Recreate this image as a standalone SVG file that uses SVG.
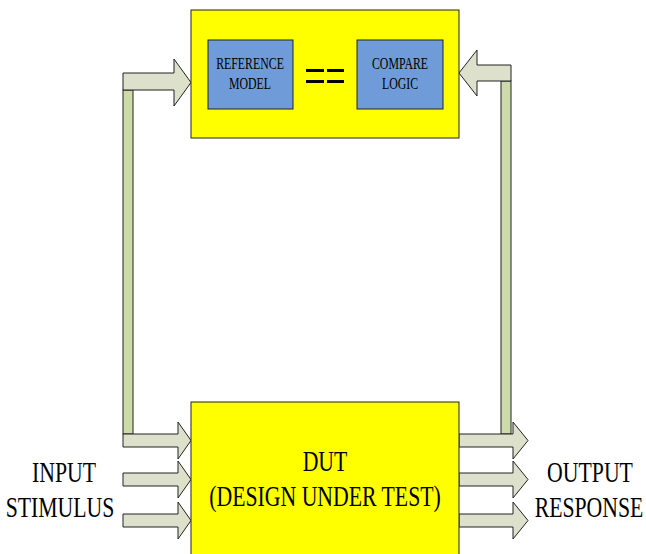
<svg xmlns="http://www.w3.org/2000/svg" width="646" height="554" viewBox="0 0 646 554">
  <style>
    .yellow { fill: #FFFF00; stroke: #222; stroke-width: 1; }
    .blue { fill: #6F9CD8; stroke: #222; stroke-width: 1; }
    .arrow { fill: #DDE1CB; stroke: #222; stroke-width: 1; stroke-linejoin: miter; }
    .bar { fill: #CDDBAA; stroke: #222; stroke-width: 1; }
    .t { font-family: "Liberation Serif", "Times New Roman", serif; fill: #000; text-anchor: middle; }
    .small { font-size: 16px; }
    .big { font-size: 29px; }
  </style>
  <rect width="646" height="554" fill="#FFFFFF"/>

  <g id="connectors">
    <!-- feedback bars -->
    <rect class="bar" x="123" y="90" width="10" height="344"/>
    <rect class="bar" x="501" y="81" width="10" height="353"/>
    <!-- top left arrow into verification box -->
    <polygon class="arrow" points="123,73 174,73 174,59 191,82.5 174,106 174,90 123,90"/>
    <!-- top right arrow into verification box -->
    <polygon class="arrow" points="511,65 477,65 477,50 459,73 477,96 477,81 511,81"/>
    <!-- input arrows -->
    <polygon class="arrow" points="123,434 178,434 178,422 191,440.5 178,459 178,447 123,447"/>
    <polygon class="arrow" points="123,473 178,473 178,461 191,479.5 178,498 178,486 123,486"/>
    <polygon class="arrow" points="123,514 178,514 178,502 191,520.5 178,539 178,527 123,527"/>
    <!-- output arrows -->
    <polygon class="arrow" points="459,434 513,434 513,422 528,440.5 513,459 513,447 459,447"/>
    <polygon class="arrow" points="459,473 513,473 513,461 528,479.5 513,498 513,486 459,486"/>
    <polygon class="arrow" points="459,514 513,514 513,502 528,520.5 513,539 513,527 459,527"/>
  </g>

  <g id="verification">
    <rect class="yellow" x="191" y="10" width="268" height="128"/>
  </g>

  <g id="reference-model">
    <rect class="blue" x="208" y="40" width="85" height="69"/>
    <text class="t small" transform="translate(250,69) scale(0.74,1)">REFERENCE</text>
    <text class="t small" transform="translate(250,89) scale(0.74,1)">MODEL</text>
  </g>

  <g id="equals">
    <rect x="306" y="69" width="18" height="3" fill="#000"/>
    <rect x="327" y="69" width="17" height="3" fill="#000"/>
    <rect x="306" y="80" width="18" height="3" fill="#000"/>
    <rect x="327" y="80" width="17" height="3" fill="#000"/>
  </g>

  <g id="compare-logic">
    <rect class="blue" x="357" y="40" width="86" height="69"/>
    <text class="t small" transform="translate(400,69) scale(0.74,1)">COMPARE</text>
    <text class="t small" transform="translate(400,89) scale(0.74,1)">LOGIC</text>
  </g>

  <g id="dut">
    <rect class="yellow" x="191" y="402" width="268" height="160"/>
    <text class="t big" transform="translate(325,471) scale(0.75,1)">DUT</text>
    <text class="t big" transform="translate(325,506) scale(0.75,1)">(DESIGN UNDER TEST)</text>
  </g>

  <g id="input-stimulus">
    <text class="t big" transform="translate(64,482) scale(0.75,1)">INPUT</text>
    <text class="t big" transform="translate(60,517) scale(0.75,1)">STIMULUS</text>
  </g>

  <g id="output-response">
    <text class="t big" transform="translate(590,482) scale(0.75,1)">OUTPUT</text>
    <text class="t big" transform="translate(589,517) scale(0.75,1)">RESPONSE</text>
  </g>
</svg>
